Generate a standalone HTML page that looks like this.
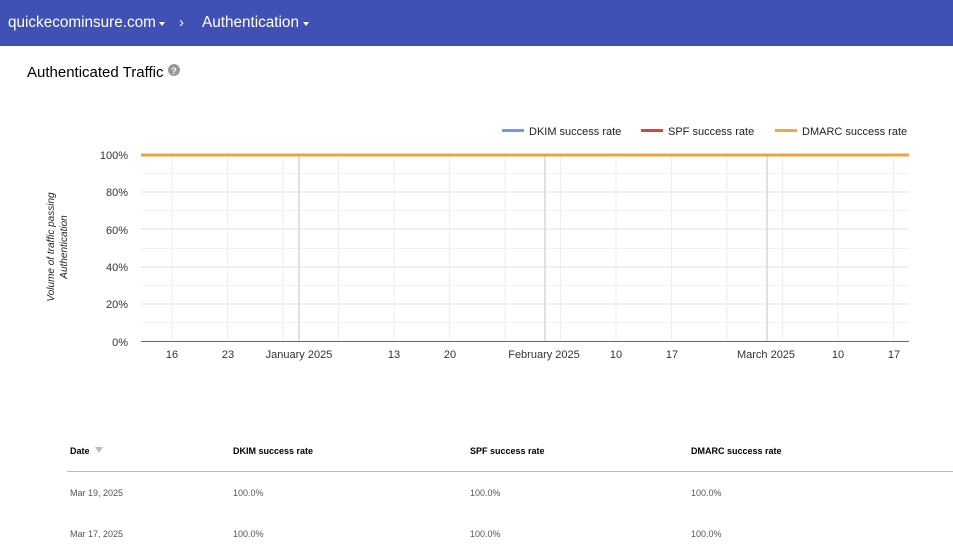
<!DOCTYPE html>
<html><head><style>
body{margin:0;width:953px;height:560px;overflow:hidden;background:#fff;font-family:"Liberation Sans",Arial,sans-serif;}
.top{height:46px;background:#3f51b5;color:#fff;font-size:15.3px;position:relative}
.top span{position:absolute;top:14px;white-space:nowrap}
.tri{position:absolute;top:22px;width:0;height:0;border-left:3.5px solid transparent;border-right:3.5px solid transparent;border-top:4px solid #fff}
</style></head><body>
<div class="top"><span style="left:8px">quickecominsure.com</span><i class="tri" style="left:159px"></i><span style="left:179px;font-size:15px">›</span><span style="left:202px">Authentication</span><i class="tri" style="left:303px"></i></div>
<svg width="953" height="514" style="position:absolute;left:0;top:46px" font-family="Liberation Sans,Arial,sans-serif">
<text x="27" y="31" font-size="15" fill="#000">Authenticated Traffic</text>
<circle cx="174" cy="24" r="6" fill="#999"/><text x="174" y="28" font-size="9" fill="#fff" text-anchor="middle" font-weight="bold">?</text>
<g font-size="11" fill="#222">
<rect x="502" y="83" width="22" height="3" fill="#6d9eeb"/><text x="529" y="89">DKIM success rate</text>
<rect x="641" y="83" width="22" height="3" fill="#db4437"/><text x="668" y="89">SPF success rate</text>
<rect x="775" y="83" width="22" height="3" fill="#f4a93b"/><text x="802" y="89">DMARC success rate</text>
</g>
<g stroke="#f2f2f2"><line x1="141" x2="909" y1="127.5" y2="127.5"/><line x1="141" x2="909" y1="164.5" y2="164.5"/><line x1="141" x2="909" y1="202.5" y2="202.5"/><line x1="141" x2="909" y1="239.5" y2="239.5"/><line x1="141" x2="909" y1="276.5" y2="276.5"/></g>
<g stroke="#e0e0e0"><line x1="141" x2="909" y1="146" y2="146"/><line x1="141" x2="909" y1="183" y2="183"/><line x1="141" x2="909" y1="221" y2="221"/><line x1="141" x2="909" y1="258" y2="258"/></g>
<g stroke="#eeeeee">
<line x1="172" x2="172" y1="109" y2="295"/><line x1="227.5" x2="227.5" y1="109" y2="295"/><line x1="283" x2="283" y1="109" y2="295"/><line x1="338.5" x2="338.5" y1="109" y2="295"/><line x1="394" x2="394" y1="109" y2="295"/><line x1="449.5" x2="449.5" y1="109" y2="295"/><line x1="505" x2="505" y1="109" y2="295"/><line x1="560.5" x2="560.5" y1="109" y2="295"/><line x1="616" x2="616" y1="109" y2="295"/><line x1="671.5" x2="671.5" y1="109" y2="295"/><line x1="727" x2="727" y1="109" y2="295"/><line x1="782.5" x2="782.5" y1="109" y2="295"/><line x1="838" x2="838" y1="109" y2="295"/><line x1="893.5" x2="893.5" y1="109" y2="295"/>
</g>
<g stroke="#e0e0e0" stroke-width="2"><line x1="299" x2="299" y1="109" y2="295"/><line x1="545" x2="545" y1="109" y2="295"/><line x1="767" x2="767" y1="109" y2="295"/></g>
<line x1="141" x2="909" y1="295.5" y2="295.5" stroke="#666"/>
<line x1="141" x2="909" y1="109" y2="109" stroke="#f0a33c" stroke-width="3"/>
<g font-size="11" fill="#333" text-anchor="end"><text x="128" y="113">100%</text><text x="128" y="150">80%</text><text x="128" y="188">60%</text><text x="128" y="225">40%</text><text x="128" y="262">20%</text><text x="128" y="300">0%</text></g>
<g font-size="11" fill="#333" text-anchor="middle"><text x="172" y="312">16</text><text x="228" y="312">23</text><text x="299" y="312">January 2025</text><text x="394" y="312">13</text><text x="450" y="312">20</text><text x="544" y="312">February 2025</text><text x="616" y="312">10</text><text x="672" y="312">17</text><text x="766" y="312">March 2025</text><text x="838" y="312">10</text><text x="894" y="312">17</text></g>
<g font-size="10" font-style="italic" fill="#222" text-anchor="middle"><text transform="translate(54,201) rotate(-90)">Volume of traffic passing</text><text transform="translate(67,201) rotate(-90)">Authentication</text></g>
<g font-size="9" font-weight="bold" fill="#000"><text x="70" y="408">Date</text><text x="233" y="408">DKIM success rate</text><text x="470" y="408">SPF success rate</text><text x="691" y="408">DMARC success rate</text></g>
<path d="M95 401h8l-4 6z" fill="#bbb"/>
<line x1="67" x2="953" y1="425.5" y2="425.5" stroke="#bbb"/>
<g font-size="9" fill="#555"><text x="70" y="450">Mar 19, 2025</text><text x="233" y="450">100.0%</text><text x="470" y="450">100.0%</text><text x="691" y="450">100.0%</text>
<text x="70" y="491">Mar 17, 2025</text><text x="233" y="491">100.0%</text><text x="470" y="491">100.0%</text><text x="691" y="491">100.0%</text></g>
</svg>
</body></html>
